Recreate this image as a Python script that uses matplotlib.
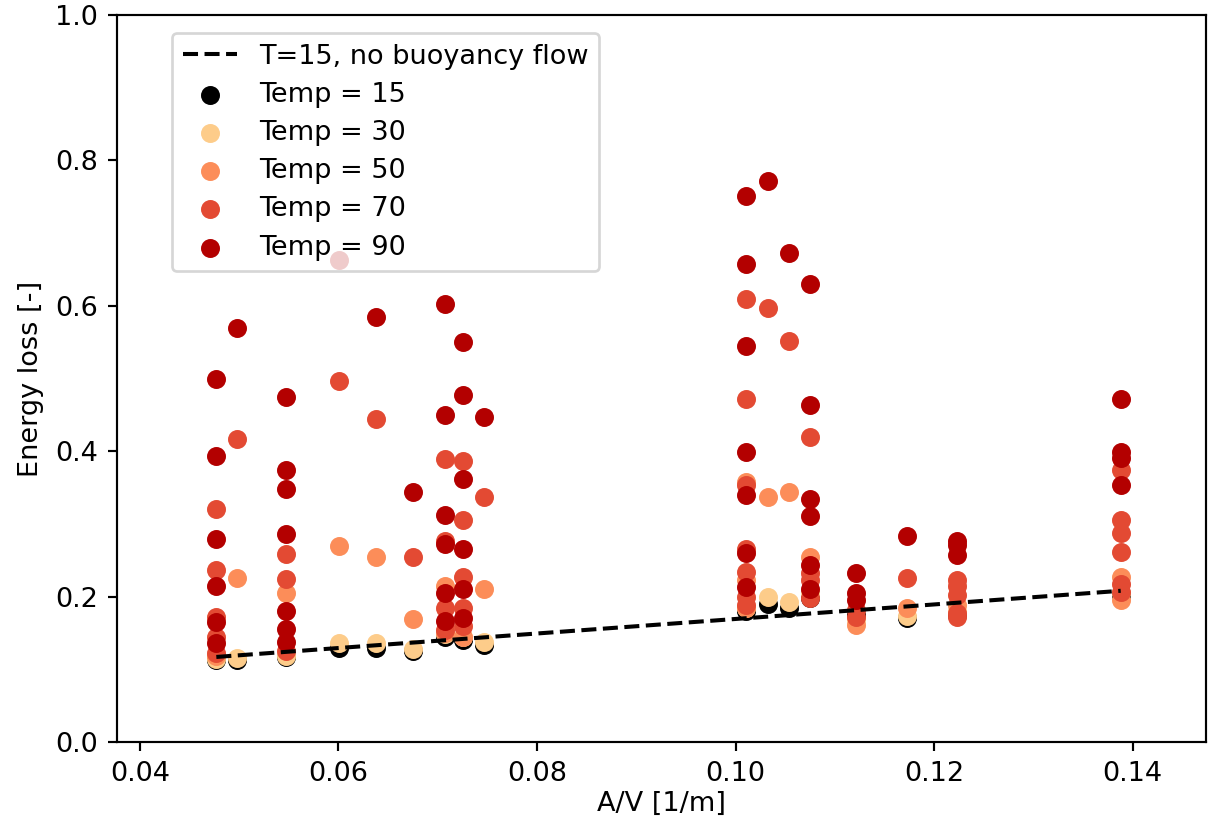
import matplotlib
matplotlib.use("Agg")
import matplotlib.pyplot as plt

# A/V column positions
c = [0.0477, 0.0498, 0.0547, 0.0601, 0.0638, 0.0675, 0.0707, 0.0725, 0.0747,
     0.1011, 0.1033, 0.1054, 0.1075, 0.1121, 0.1173, 0.1223, 0.1388]

# Temp = 15
x15 = c
y15 = [0.113, 0.113, 0.117, 0.129, 0.129, 0.125, 0.145, 0.140, 0.134,
       0.180, 0.190, 0.185, 0.198, 0.175, 0.170, 0.175, 0.202]

# Temp = 30
x30 = c
y30 = [0.114, 0.116, 0.118, 0.136, 0.136, 0.128, 0.148, 0.145, 0.137,
       0.185, 0.200, 0.193, 0.205, 0.168, 0.173, 0.180, 0.205]

# Temp = 50
x50 = [c[0], c[1], c[2], c[3], c[4], c[5], c[6], c[6], c[7], c[8],
       c[9], c[9], c[9], c[10], c[11], c[12], c[13], c[14], c[15], c[16], c[16]]
y50 = [0.118, 0.226, 0.205, 0.269, 0.254, 0.169, 0.214, 0.150, 0.145, 0.211,
       0.358, 0.223, 0.185, 0.337, 0.344, 0.255, 0.161, 0.184, 0.188, 0.227, 0.195]

# Temp = 70
x70 = ([c[0]] * 5 + [c[1]] + [c[2]] * 3 + [c[3]] + [c[4]] + [c[5]] + [c[6]] * 4 +
       [c[7]] * 5 + [c[8]] + [c[9]] * 7 + [c[10]] + [c[11]] + [c[12]] * 4 +
       [c[13]] * 2 + [c[14]] + [c[15]] * 5 + [c[16]] * 6)
y70 = [0.321, 0.236, 0.172, 0.145, 0.122,
       0.417,
       0.259, 0.224, 0.125,
       0.497,
       0.444,
       0.254,
       0.389, 0.277, 0.184, 0.154,
       0.387, 0.305, 0.227, 0.184, 0.159,
       0.337,
       0.610, 0.472, 0.353, 0.266, 0.234, 0.200, 0.188,
       0.597,
       0.552,
       0.419, 0.232, 0.223, 0.198,
       0.182, 0.172,
       0.226,
       0.223, 0.214, 0.202, 0.177, 0.172,
       0.374, 0.305, 0.287, 0.262, 0.218, 0.207]

# Temp = 90
x90 = ([c[0]] * 6 + [c[1]] + [c[2]] * 7 + [c[3]] + [c[4]] + [c[5]] + [c[6]] * 6 +
       [c[7]] * 6 + [c[8]] + [c[9]] * 7 + [c[10]] + [c[11]] + [c[12]] * 6 +
       [c[13]] * 3 + [c[14]] + [c[15]] * 3 + [c[16]] * 4)
y90 = [0.499, 0.394, 0.279, 0.214, 0.165, 0.136,
       0.570,
       0.475, 0.374, 0.348, 0.286, 0.180, 0.156, 0.138,
       0.663,
       0.585,
       0.344,
       0.602, 0.450, 0.312, 0.273, 0.205, 0.167,
       0.550, 0.477, 0.362, 0.266, 0.211, 0.170,
       0.447,
       0.751, 0.657, 0.545, 0.399, 0.340, 0.260, 0.213,
       0.771,
       0.673,
       0.630, 0.464, 0.334, 0.311, 0.243, 0.211,
       0.233, 0.205, 0.196,
       0.284,
       0.277, 0.271, 0.257,
       0.472, 0.399, 0.390, 0.353]

# Reference line (T=15, no buoyancy flow)
xline = [0.0477, 0.1388]
yline = [0.117, 0.208]

DPI = 195
fig = plt.figure(figsize=(1208 / DPI, 823 / DPI), dpi=DPI)
ax = fig.add_axes([0.0969, 0.0984, 0.9015, 0.8834])

h15 = ax.scatter(x15, y15, color='black', label='Temp = 15')
h30 = ax.scatter(x30, y30, color='#fdcc8a', label='Temp = 30')
h50 = ax.scatter(x50, y50, color='#fc8d59', label='Temp = 50')
h70 = ax.scatter(x70, y70, color='#e34a33', label='Temp = 70')
h90 = ax.scatter(x90, y90, color='#b30000', label='Temp = 90')
hl, = ax.plot(xline, yline, 'k--', label='T=15, no buoyancy flow')

ax.set_xlim(0.0377, 0.1474)
ax.set_ylim(0.0, 1.0)
ax.set_xticks([0.04, 0.06, 0.08, 0.10, 0.12, 0.14])
ax.set_yticks([0.0, 0.2, 0.4, 0.6, 0.8, 1.0])
ax.set_xlabel('A/V [1/m]', labelpad=1.5)
ax.set_ylabel('Energy loss [-]')

ax.legend(handles=[hl, h15, h30, h50, h70, h90], loc='upper left',
          bbox_to_anchor=(0.038, 0.994), labelspacing=0.45)

fig.savefig('out.png', dpi=DPI)
